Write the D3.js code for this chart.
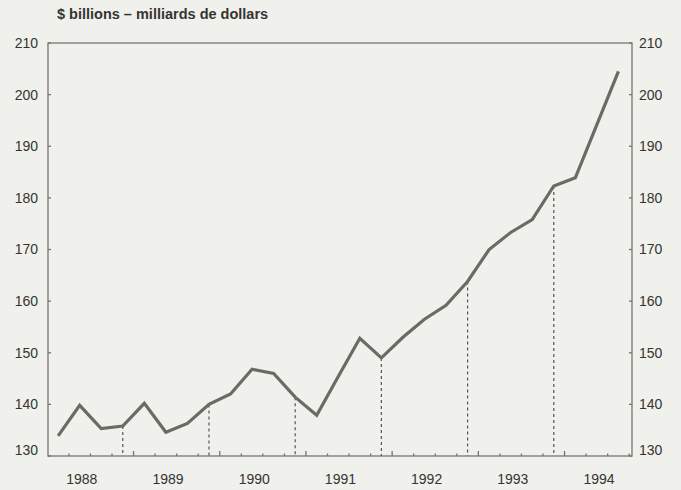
<!DOCTYPE html>
<html>
  <head>
    <meta charset="utf-8">
    <script src="https://cdn.jsdelivr.net/npm/d3@7"></script>
    <style type="text/css">
    body {
      margin: 0;
      background: #f0f0ed;
    }
    svg text {
      font-family: "Liberation Sans", Arial, sans-serif;
      fill: #35352f;
    }
    .title {
      font-size: 14.5px;
      font-weight: bold;
    }
    .tick-label {
      font-size: 14px;
    }
    .axis-line {
      fill: none;
      stroke: #77776f;
      stroke-width: 1.3;
    }
    .series {
      fill: none;
      stroke: #6b6b63;
      stroke-width: 3.2;
      stroke-linejoin: miter;
    }
    .drop {
      stroke: #55554f;
      stroke-width: 1.2;
      stroke-dasharray: 3 3;
    }
    </style>
  </head>
  <body>
    <script type="text/javascript">
      // quarterly values, 1988 Q1 .. 1994 Q3 ($ billions)
      var years = [1988, 1989, 1990, 1991, 1992, 1993, 1994];
      var values = [133.9, 139.8, 135.3, 135.8,
                    140.2, 134.6, 136.3, 140.0,
                    142.0, 146.8, 146.0, 141.4,
                    137.9, 145.4, 152.8, 149.0,
                    153.0, 156.5, 159.2, 163.8,
                    170.0, 173.3, 175.8, 182.3,
                    183.9, 194.2, 204.5];
      var yTicks = [130, 140, 150, 160, 170, 180, 190, 200, 210];
      // quarters that get a dashed drop line (fourth quarter of each year)
      var dropQuarters = [3, 7, 11, 15, 19, 23];

      var w = 681;
      var h = 490;
      var plotLeft = 48, plotRight = 632, plotTop = 43, plotBottom = 456;

      var svg = d3.select("body")
                  .append("svg")
                  .attr("width", w)
                  .attr("height", h);

      var xScale = d3.scaleLinear()
                     .domain([-0.47, 26.63])
                     .range([plotLeft, plotRight]);
      var yScale = d3.scaleLinear()
                     .domain([130, 210])
                     .range([plotBottom, plotTop]);

      // title
      svg.append("text")
         .attr("class", "title")
         .attr("x", 57)
         .attr("y", 19)
         .text("$ billions – milliards de dollars");

      // frame
      svg.append("rect")
         .attr("class", "axis-line")
         .attr("x", plotLeft)
         .attr("y", plotTop)
         .attr("width", plotRight - plotLeft)
         .attr("height", plotBottom - plotTop);

      // y ticks and labels on both sides
      yTicks.forEach(function(t) {
        var y = yScale(t);
        var ly = t === 130 ? y - 6 : y;
        svg.append("line").attr("class", "axis-line")
           .attr("x1", plotLeft).attr("x2", plotLeft + 3).attr("y1", y).attr("y2", y);
        svg.append("line").attr("class", "axis-line")
           .attr("x1", plotRight - 3).attr("x2", plotRight).attr("y1", y).attr("y2", y);
        svg.append("text").attr("class", "tick-label")
           .attr("x", 38).attr("y", ly).attr("dy", "0.35em")
           .attr("text-anchor", "end").text(t);
        svg.append("text").attr("class", "tick-label")
           .attr("x", 639).attr("y", ly).attr("dy", "0.35em")
           .attr("text-anchor", "start").text(t);
      });

      // x ticks at quarter boundaries, longer at year boundaries
      d3.range(0, values.length).forEach(function(i) {
        var x = xScale(i + 0.5);
        if (x > plotRight - 2) return;
        var len = (i % 4 === 3) ? 5 : 2.5;
        svg.append("line").attr("class", "axis-line")
           .attr("x1", x).attr("x2", x)
           .attr("y1", plotBottom).attr("y2", plotBottom - len);
      });

      // year labels
      svg.selectAll(".year")
         .data(years)
         .enter()
         .append("text")
           .attr("class", "tick-label")
           .attr("x", function(d, i) { return xScale(i * 4 + 1.1); })
           .attr("y", 479)
           .attr("dy", "0.35em")
           .attr("text-anchor", "middle")
           .text(function(d) { return d; });

      // dashed drop lines
      svg.selectAll(".drop")
         .data(dropQuarters)
         .enter()
         .append("line")
           .attr("class", "drop")
           .attr("x1", function(d) { return xScale(d); })
           .attr("x2", function(d) { return xScale(d); })
           .attr("y1", function(d) { return yScale(values[d]); })
           .attr("y2", plotBottom);

      // the series
      var line = d3.line()
                   .x(function(d, i) { return xScale(i); })
                   .y(function(d) { return yScale(d); });

      svg.append("path")
         .datum(values)
         .attr("class", "series")
         .attr("d", line);
    </script>
  </body>
</html>
